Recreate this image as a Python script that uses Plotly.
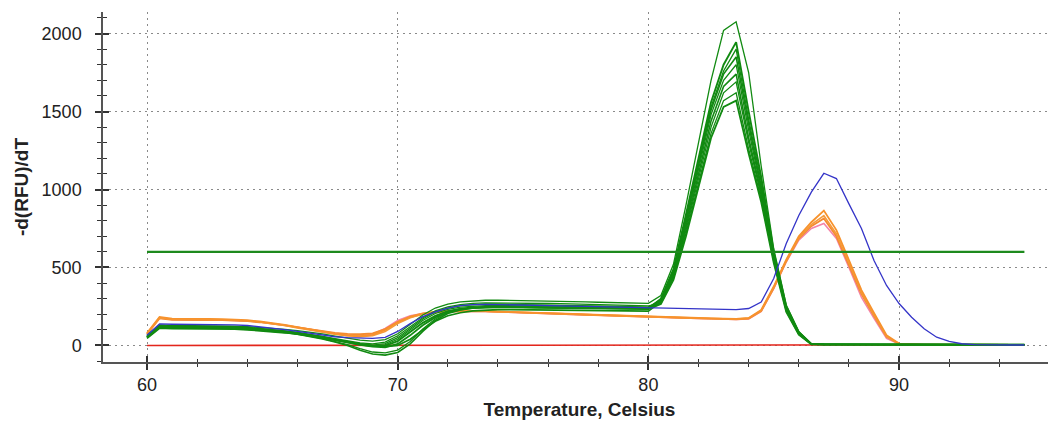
import plotly.graph_objects as go

# Temperature grid (Celsius), 0.5 degree steps from 60 to 95
temps = [60 + 0.5 * i for i in range(71)]

x_ticks = [60, 70, 80, 90]
y_ticks = [0, 500, 1000, 1500, 2000]

g1 = [65,132,128,128,128,127,126,124,121,116,110,103,95,85,74,60,46,34,28,38,75,135,195,240,265,280,287,290,290,289,288,287,285,283,281,279,277,275,273,271,270,
      320,520,900,1300,1700,2020,2075,1750,1150,620,260,90,12,
      8,8,7,7,7,7,6,6,6,6,6,6,6,5,5,5,5]
g2 = [55,120,118,118,118,117,116,114,110,104,97,88,78,66,52,36,20,6,-4,-2,28,85,145,190,220,236,244,247,248,247,246,245,244,243,242,241,240,239,238,237,236,
      300,490,840,1200,1560,1800,1945,1500,1080,600,250,85,10,
      7,7,7,7,6,6,6,6,6,6,6,6,5,5,5,5,5]
g3 = [60,125,122,122,122,121,120,118,114,108,101,92,82,70,56,40,24,10,2,12,50,110,170,215,240,255,262,265,265,264,263,262,261,260,258,256,254,252,250,248,246,
      295,480,820,1180,1530,1760,1900,1450,1050,590,245,85,10,
      8,7,7,7,7,6,6,6,6,6,6,5,5,5,5,5,5]
g4 = [50,115,113,113,113,112,111,109,105,99,92,83,72,58,42,22,0,-30,-55,-62,-45,10,90,160,205,228,240,245,246,246,245,244,243,242,241,240,239,238,237,236,235,
      290,470,800,1160,1510,1740,1850,1420,1020,580,240,80,9,
      7,7,7,6,6,6,6,6,6,6,5,5,5,5,5,5,5]
g5 = [58,122,120,120,120,119,118,116,112,106,99,90,80,68,54,38,22,8,-2,4,40,100,160,205,232,246,253,256,256,255,254,253,252,251,250,249,248,247,246,245,244,
      285,460,780,1130,1480,1700,1800,1380,1000,570,235,80,9,
      7,7,7,7,6,6,6,6,6,6,6,5,5,5,5,5,5]
g6 = [45,110,108,108,108,107,106,104,100,95,89,81,72,62,50,36,22,10,0,-8,0,40,100,155,190,210,222,228,230,230,229,228,227,226,225,224,223,222,221,220,220,
      280,450,760,1100,1440,1660,1740,1330,980,560,230,75,8,
      7,7,6,6,6,6,6,6,6,6,5,5,5,5,5,5,5]
g7 = [52,117,115,115,115,114,113,111,107,101,94,85,74,60,44,25,5,-20,-42,-48,-30,25,105,170,212,232,242,246,247,247,246,245,244,243,242,241,240,239,238,237,236,
      275,440,740,1080,1400,1620,1690,1300,960,550,225,75,8,
      7,7,6,6,6,6,6,6,6,5,5,5,5,5,5,5,5]
g8 = [62,127,124,124,124,123,122,120,116,110,103,94,84,72,58,43,28,16,10,22,62,120,178,222,248,262,270,273,273,272,271,270,269,268,266,264,262,260,258,256,254,
      270,430,720,1050,1360,1570,1620,1260,940,540,220,70,8,
      7,7,7,6,6,6,6,6,6,6,6,5,5,5,5,5,5]
g9 = [54,118,116,116,116,115,114,112,108,102,95,86,76,64,50,34,18,4,-8,-12,10,65,130,180,212,230,239,243,244,244,243,242,241,240,239,238,237,236,235,234,233,
      265,420,700,1020,1330,1530,1570,1230,920,530,215,70,7,
      6,6,6,6,6,6,6,5,5,5,5,5,5,5,5,5,5]

blue = [65,138,136,136,136,135,134,132,128,120,112,102,90,78,66,56,50,46,45,52,90,140,185,215,240,255,262,264,263,262,260,258,256,254,252,250,248,246,244,242,240,
        238,236,234,233,232,231,230,237,278,429,654,833,983,
        1104,1070,908,750,545,385,269,181,107,53,26,11,6,4,3,3,3]

orange1 = [80,182,172,170,170,170,169,167,162,154,144,132,117,102,87,74,64,60,68,100,150,185,205,216,221,222,221,220,218,216,214,211,208,205,202,199,196,193,190,187,184,
           182,180,178,176,174,172,170,176,228,378,550,700,790,
           865,740,548,355,208,66,12,6,5,5,5,4,4,4,4,4,4]
orange2 = [76,178,168,166,166,166,165,163,158,150,140,128,113,98,84,72,62,57,62,90,140,178,200,212,218,220,220,219,217,215,213,210,207,204,201,198,195,192,189,186,183,
           181,179,177,175,173,171,169,174,224,372,545,690,775,
           833,715,530,340,195,58,10,6,5,5,5,4,4,4,4,4,4]
orange3 = [72,174,165,163,163,163,162,160,156,149,140,129,116,103,91,81,74,72,78,105,150,182,202,213,218,219,219,218,216,214,212,209,206,203,200,197,194,191,188,185,182,
           180,178,176,174,172,170,168,172,220,368,540,685,765,
           814,700,515,330,188,55,10,6,5,5,5,4,4,4,4,4,4]
pink = [74,176,166,164,164,164,163,161,157,150,141,130,117,103,90,78,68,64,72,110,160,190,205,214,218,219,218,217,215,213,211,208,205,202,199,196,193,190,187,184,181,
        179,177,175,173,171,169,167,170,218,365,535,675,750,
        782,686,500,308,173,45,9,5,5,5,4,4,4,4,4,4,4]

red = [0,0,0,0,0,0,0,0,0,0,0,0,0,0,0,0,0,0,0,0,0,0,0,0,0,0,0,0,0,0,0,1,1,1,1,1,1,1,1,2,2,
       2,2,2,2,2,2,2,2,2,2,2,2,2,
       3,3,3,3,3,3,3,3,3,3,3,3,4,4,4,4,4]

threshold_x = [60, 95]
threshold_y = [600, 600]

for s in [g1, g2, g3, g4, g5, g6, g7, g8, g9, blue, orange1, orange2, orange3, pink, red]:
    assert len(s) == len(temps), len(s)

GREEN = "#118a11"
fig = go.Figure()

fig.add_trace(go.Scatter(x=temps, y=red, mode="lines", line=dict(color="#e3261c", width=1.6), showlegend=False))
for s, c, w in [(pink, "#f483a8", 1.5), (orange3, "#f48a30", 1.8), (orange2, "#f59a3a", 1.6), (orange1, "#f7922c", 1.8)]:
    fig.add_trace(go.Scatter(x=temps, y=s, mode="lines", line=dict(color=c, width=w), showlegend=False))
for s, w in [(g1, 1.3), (g2, 1.9), (g3, 1.3), (g4, 1.6), (g5, 1.3), (g6, 1.6), (g7, 1.3), (g8, 1.3), (g9, 1.8)]:
    fig.add_trace(go.Scatter(x=temps, y=s, mode="lines", line=dict(color=GREEN, width=w), showlegend=False))
fig.add_trace(go.Scatter(x=temps, y=blue, mode="lines", line=dict(color="#3434c8", width=1.3), showlegend=False))
fig.add_trace(go.Scatter(x=threshold_x, y=threshold_y, mode="lines", line=dict(color="#1d8a1d", width=2.2), showlegend=False))

# invisible trace for overlay axes (inside half of the crossing ticks)
fig.add_trace(go.Scatter(x=[70], y=[1000], xaxis="x2", yaxis="y2", mode="markers",
                         marker=dict(opacity=0), showlegend=False, hoverinfo="skip"))

XR = [58.245, 96.26]
YR = [-106, 2138]
tickfont = dict(family="Liberation Sans, Arial, sans-serif", size=18, color="#222")
titlefont = dict(family="Liberation Sans, Arial, sans-serif", size=19, color="#222")
grid = dict(showgrid=True, gridcolor="#8a8a8a", griddash="2px,4px", gridwidth=1.2)
x_minor = [62, 64, 66, 68, 72, 74, 76, 78, 82, 84, 86, 88, 92, 94, 96]

# the page body adds an 8px offset, so the figure is 8px smaller than the window
fig.update_layout(
    width=1048, height=415,
    margin=dict(l=95, r=0, t=4, b=61),
    paper_bgcolor="white", plot_bgcolor="white",
    xaxis=dict(range=XR, tickvals=x_ticks, ticks="outside", ticklen=6, tickwidth=1.5, tickcolor="#333",
               showline=True, linecolor="#555", linewidth=1.5, zeroline=False, tickfont=tickfont,
               minor=dict(tickvals=x_minor, ticks="outside", ticklen=3, tickwidth=1.3, tickcolor="#333", showgrid=False),
               title=dict(text="<b>Temperature, Celsius</b>", font=titlefont, standoff=8),
               **grid),
    yaxis=dict(range=YR, tickvals=y_ticks, ticks="outside", ticklen=6, tickwidth=1.5, tickcolor="#333",
               showline=True, linecolor="#555", linewidth=1.5, zeroline=False, tickfont=tickfont,
               ticklabelstandoff=10,
               minor=dict(dtick=100, tick0=0, ticks="outside", ticklen=4, tickwidth=1.3, tickcolor="#333", showgrid=False),
               title=dict(text="<b>-d(RFU)/dT</b>", font=titlefont, standoff=8),
               **grid),
    xaxis2=dict(overlaying="x", anchor="y2", range=XR, tickvals=x_ticks, ticks="inside", ticklen=6, tickwidth=1.5,
                tickcolor="#333", showticklabels=False, showgrid=False, zeroline=False, showline=False,
                minor=dict(tickvals=x_minor, ticks="inside", ticklen=3, tickwidth=1.3, tickcolor="#333")),
    yaxis2=dict(overlaying="y", anchor="x2", range=YR, tickvals=y_ticks, ticks="inside", ticklen=6, tickwidth=1.5,
                tickcolor="#333", showticklabels=False, showgrid=False, zeroline=False, showline=False,
                minor=dict(dtick=100, tick0=0, ticks="inside", ticklen=4, tickwidth=1.3, tickcolor="#333")),
)

fig.write_html("out.html")
